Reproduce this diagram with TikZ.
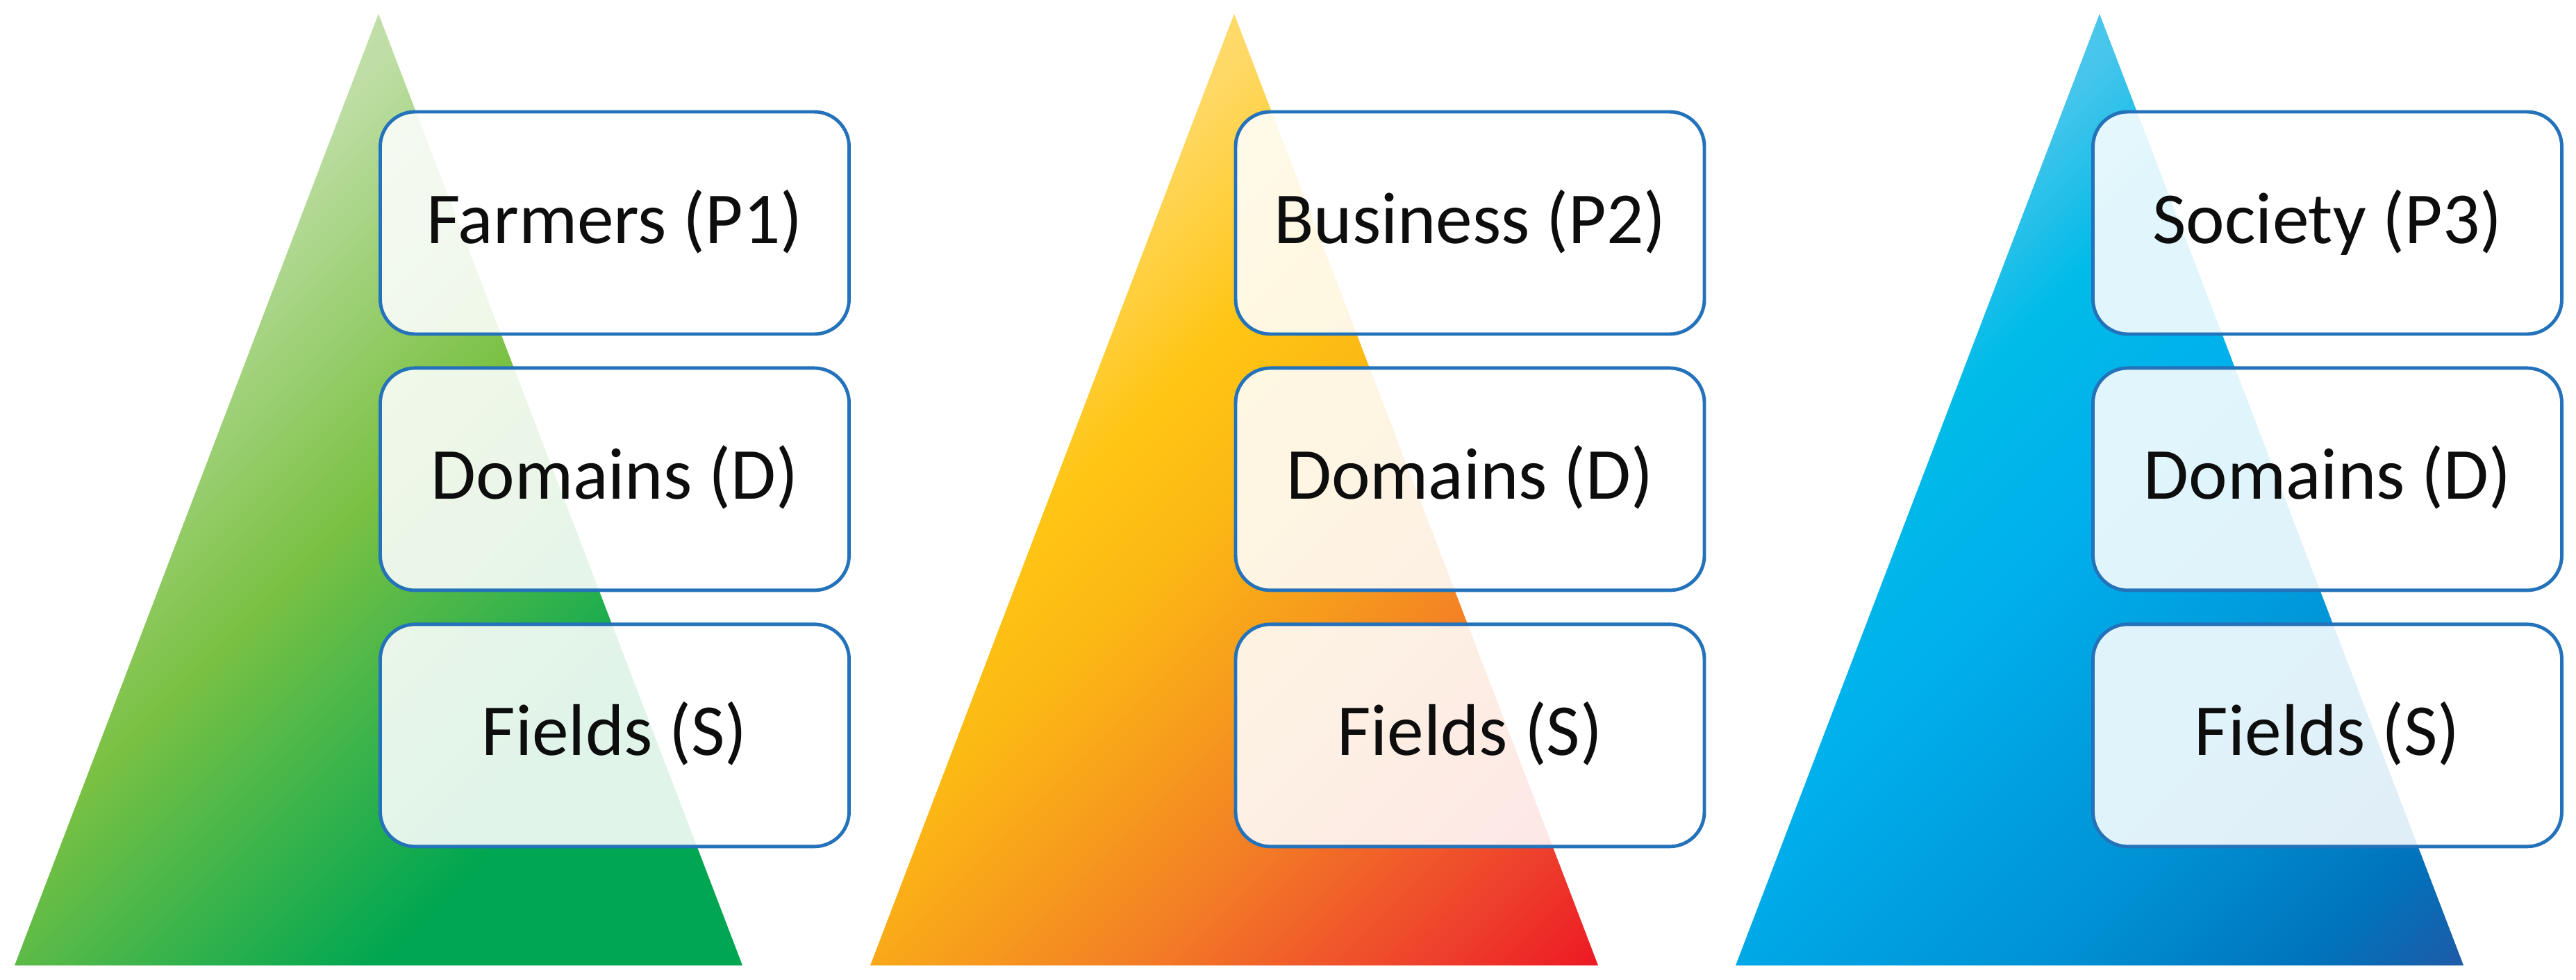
\documentclass[tikz,border=0pt]{standalone}
\usepackage{fontspec}
\setmainfont{Carlito}
\usetikzlibrary{positioning}
\usetikzlibrary{calc}

\definecolor{layer blue}{RGB}{35,114,186}
\definecolor{layer text}{RGB}{13,13,13}

% Colour ramps for the three pyramids, bottom right to top left
\pgfdeclareverticalshading{greenramp}{100bp}{
    color(0bp)=(rgb,255:red,0;green,166;blue,81);
    color(30bp)=(rgb,255:red,0;green,166;blue,81);
    color(40bp)=(rgb,255:red,60;green,180;blue,75);
    color(50bp)=(rgb,255:red,122;green,193;blue,67);
    color(68bp)=(rgb,255:red,190;green,222;blue,165);
    color(100bp)=(rgb,255:red,220;green,236;blue,210)}
\pgfdeclareverticalshading{amberramp}{100bp}{
    color(0bp)=(rgb,255:red,237;green,28;blue,36);
    color(15bp)=(rgb,255:red,237;green,28;blue,36);
    color(22bp)=(rgb,255:red,238;green,65;blue,45);
    color(34bp)=(rgb,255:red,243;green,125;blue,38);
    color(40bp)=(rgb,255:red,246;green,150;blue,30);
    color(50bp)=(rgb,255:red,252;green,185;blue,20);
    color(57bp)=(rgb,255:red,255;green,197;blue,20);
    color(68bp)=(rgb,255:red,255;green,217;blue,102);
    color(100bp)=(rgb,255:red,255;green,235;blue,170)}
\pgfdeclareverticalshading{blueramp}{100bp}{
    color(0bp)=(rgb,255:red,28;green,90;blue,168);
    color(15bp)=(rgb,255:red,28;green,92;blue,168);
    color(21bp)=(rgb,255:red,0;green,115;blue,188);
    color(32bp)=(rgb,255:red,0;green,145;blue,212);
    color(50bp)=(rgb,255:red,0;green,176;blue,236);
    color(60bp)=(rgb,255:red,0;green,187;blue,232);
    color(68bp)=(rgb,255:red,70;green,197;blue,235);
    color(100bp)=(rgb,255:red,150;green,220;blue,240)}

\tikzset{
    % Diagonal ramp, light at the apex side
    pyramid fill/.style={shading=#1, shading angle=45},
%
    % Rounded layer box, lets the pyramid show through a little
    layer box/.style={
        draw=layer blue, line width=1.4pt, rounded corners=5mm,
        fill=white, fill opacity=0.88, text opacity=1,
        minimum width=67.5mm, minimum height=32mm,
        text height=8mm, text depth=2.2mm, text=layer text,
        font=\fontsize{30}{36}\selectfont}}

\begin{document}
\begin{tikzpicture}
\useasboundingbox (0,0) rectangle (37.09,14.10);

% Draws a pyramid named #1 with its apex at x = #2, shaded with ramp #3
\newcommand{\shadedpyramid}[3]{
\path [pyramid fill=#3]
    (#2,13.90) coordinate (#1 apex)
    -- ++(-5.24,-13.70) coordinate (#1 left)
    -- ++(10.48,0) coordinate (#1 right) -- cycle;
}

% Stacks three layer boxes named after #1, the top one at #2 with label #3
\newcommand{\layerstack}[3]{
\node [layer box] (#1 top) at (#2) {#3};
\node [layer box, below=4.4mm of #1 top] (#1 mid) {Domains (D)};
\node [layer box, below=4.4mm of #1 mid] (#1 low) {Fields (S)};
}

% Farmers
\shadedpyramid{farmers}{5.45}{greenramp}
\layerstack{farmers}{8.85,10.89}{Farmers (P1)}

% Business
\shadedpyramid{business}{17.77}{amberramp}
\layerstack{business}{21.165,10.89}{Business (P2)}

% Society
\shadedpyramid{society}{30.23}{blueramp}
\layerstack{society}{33.51,10.89}{Society (P3)}

\end{tikzpicture}
\end{document}
